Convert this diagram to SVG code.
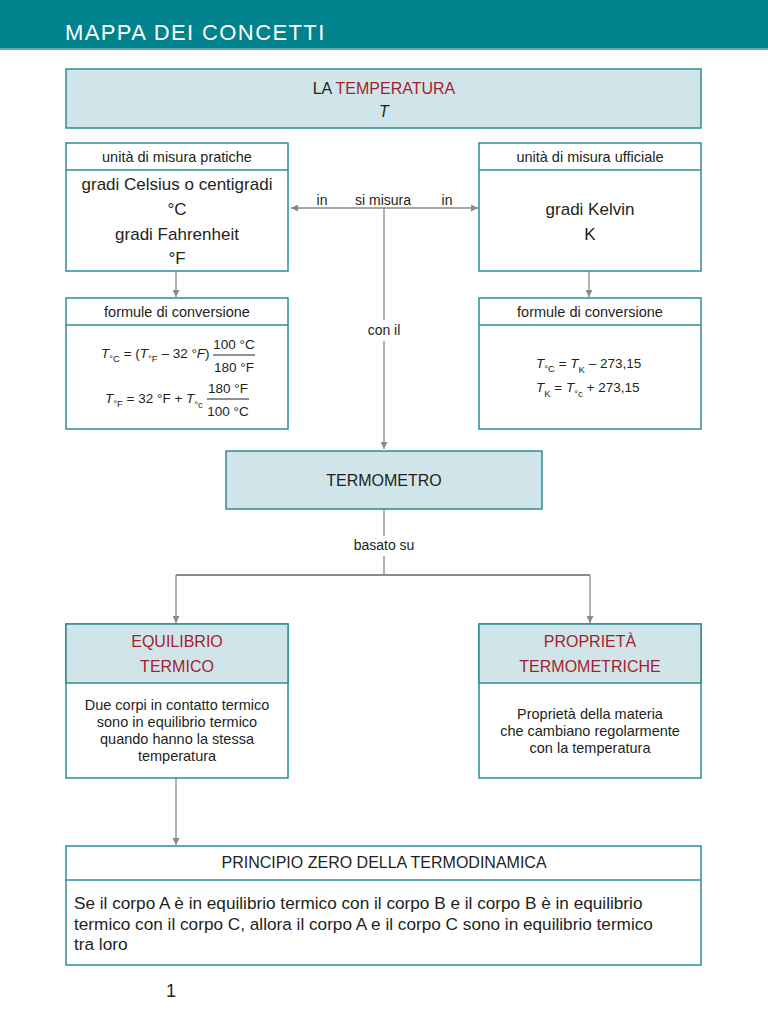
<svg xmlns="http://www.w3.org/2000/svg" width="768" height="1024" viewBox="0 0 768 1024">
<defs>
<style>
text{font-family:"Liberation Sans",Arial,sans-serif;fill:#231f20}
.box{fill:#ffffff;stroke:#2f8c95;stroke-width:1.5}
.hl{fill:#cfe5ea;stroke:#2f8c95;stroke-width:1.5}
.div{stroke:#2f8c95;stroke-width:1.5}
.c{text-anchor:middle}
.hd{font-size:14.5px}
.big{font-size:17px}
.body{font-size:14.5px}
.red{fill:#a61e2d}
.conn{stroke:#8a8a8a;stroke-width:1.3;fill:none}
.lbl{font-size:14px;text-anchor:middle}
.f{font-size:13.5px}
.it{font-style:italic}
.sub{font-size:9.5px}
</style>
<marker id="ah" viewBox="0 0 10 10" refX="10" refY="5" markerWidth="7" markerHeight="7" markerUnits="userSpaceOnUse" orient="auto">
<path d="M0,0 L10,5 L0,10 z" fill="#8a8a8a"/>
</marker>
</defs>
<rect width="768" height="1024" fill="#ffffff"/>
<g id="header">
<rect x="0" y="0" width="768" height="48" fill="#00838d"/>
<rect x="0" y="48" width="768" height="2" fill="#5ea9ae"/>
<text x="65" y="40" style="font-size:22px;fill:#ffffff;letter-spacing:1.4px">MAPPA DEI CONCETTI</text>
</g>
<g id="connectors">
<line class="conn" x1="384" y1="208" x2="291" y2="208" marker-end="url(#ah)"/>
<line class="conn" x1="384" y1="208" x2="478" y2="208" marker-end="url(#ah)"/>
<line class="conn" x1="384" y1="208" x2="384" y2="320"/>
<line class="conn" x1="384" y1="341" x2="384" y2="449" marker-end="url(#ah)"/>
<line class="conn" x1="176" y1="271" x2="176" y2="297" marker-end="url(#ah)"/>
<line class="conn" x1="589" y1="271" x2="589" y2="297" marker-end="url(#ah)"/>
<line class="conn" x1="384" y1="509" x2="384" y2="536"/>
<line class="conn" x1="384" y1="556" x2="384" y2="575"/>
<line class="conn" x1="176" y1="575" x2="590" y2="575" style="stroke-width:2"/>
<line class="conn" x1="176" y1="575" x2="176" y2="623" marker-end="url(#ah)"/>
<line class="conn" x1="590" y1="575" x2="590" y2="623" marker-end="url(#ah)"/>
<line class="conn" x1="176" y1="778" x2="176" y2="845" marker-end="url(#ah)"/>
<text class="lbl" x="322" y="205">in</text>
<text class="lbl" x="383" y="205">si misura</text>
<text class="lbl" x="447" y="205">in</text>
<text class="lbl" x="384" y="335">con il</text>
<text class="lbl" x="384" y="550">basato su</text>
</g>
<g id="temperatura">
<rect class="hl" x="66" y="69" width="635" height="59"/>
<text class="c" x="384" y="94" style="font-size:16px">LA <tspan class="red">TEMPERATURA</tspan></text>
<text class="c it" x="384" y="117" style="font-size:16px">T</text>
</g>
<g id="unita-pratiche">
<rect class="box" x="66" y="143" width="222" height="128"/>
<line class="div" x1="66" y1="170" x2="288" y2="170"/>
<text class="c hd" x="177" y="162">unità di misura pratiche</text>
<text class="c big" x="177" y="190">gradi Celsius o centigradi</text>
<text class="c big" x="177" y="215">°C</text>
<text class="c big" x="177" y="240">gradi Fahrenheit</text>
<text class="c big" x="177" y="264">°F</text>
</g>
<g id="unita-ufficiale">
<rect class="box" x="479" y="143" width="222" height="128"/>
<line class="div" x1="479" y1="170" x2="701" y2="170"/>
<text class="c hd" x="590" y="162">unità di misura ufficiale</text>
<text class="c big" x="590" y="215">gradi Kelvin</text>
<text class="c big" x="590" y="240">K</text>
</g>
<g id="formule-sx">
<rect class="box" x="66" y="298" width="222" height="131"/>
<line class="div" x1="66" y1="325" x2="288" y2="325"/>
<text class="c hd" x="177" y="317">formule di conversione</text>
<text class="f" x="101" y="358"><tspan class="it">T</tspan><tspan class="sub" dy="4">°C</tspan><tspan dy="-4"> = (</tspan><tspan class="it">T</tspan><tspan class="sub" dy="4">°F</tspan><tspan dy="-4"> – 32 °</tspan><tspan class="it">F</tspan><tspan>)</tspan></text>
<text class="f c" x="234" y="349">100 °C</text>
<line x1="213" y1="355" x2="255" y2="355" stroke="#231f20" stroke-width="1"/>
<text class="f c" x="234" y="372">180 °F</text>
<text class="f" x="105" y="403"><tspan class="it">T</tspan><tspan class="sub" dy="4">°F</tspan><tspan dy="-4"> = 32 °F + </tspan><tspan class="it">T</tspan><tspan class="sub" dy="5">°c</tspan></text>
<text class="f c" x="228" y="393">180 °F</text>
<line x1="207" y1="399" x2="249" y2="399" stroke="#231f20" stroke-width="1"/>
<text class="f c" x="228" y="416">100 °C</text>
</g>
<g id="formule-dx">
<rect class="box" x="479" y="298" width="222" height="131"/>
<line class="div" x1="479" y1="325" x2="701" y2="325"/>
<text class="c hd" x="590" y="317">formule di conversione</text>
<text class="f" x="536" y="368"><tspan class="it">T</tspan><tspan class="sub" dy="4">°C</tspan><tspan dy="-4"> = </tspan><tspan class="it">T</tspan><tspan class="sub" dy="5">K</tspan><tspan dy="-5"> – 273,15</tspan></text>
<text class="f" x="536" y="392"><tspan class="it">T</tspan><tspan class="sub" dy="5">K</tspan><tspan dy="-5"> = </tspan><tspan class="it">T</tspan><tspan class="sub" dy="5">°c</tspan><tspan dy="-5"> + 273,15</tspan></text>
</g>
<g id="termometro">
<rect class="hl" x="226" y="451" width="316" height="58"/>
<text class="c" x="384" y="486" style="font-size:16px">TERMOMETRO</text>
</g>
<g id="equilibrio">
<rect class="box" x="66" y="624" width="222" height="154"/>
<rect class="hl" x="66" y="624" width="222" height="59"/>
<text class="c red" x="177" y="647" style="font-size:16px">EQUILIBRIO</text>
<text class="c red" x="177" y="672" style="font-size:16px">TERMICO</text>
<text class="c body" x="177" y="710">Due corpi in contatto termico</text>
<text class="c body" x="177" y="727">sono in equilibrio termico</text>
<text class="c body" x="177" y="744">quando hanno la stessa</text>
<text class="c body" x="177" y="761">temperatura</text>
</g>
<g id="proprieta">
<rect class="box" x="479" y="624" width="222" height="154"/>
<rect class="hl" x="479" y="624" width="222" height="59"/>
<text class="c red" x="590" y="647" style="font-size:16px">PROPRIETÀ</text>
<text class="c red" x="590" y="672" style="font-size:16px">TERMOMETRICHE</text>
<text class="c body" x="590" y="719">Proprietà della materia</text>
<text class="c body" x="590" y="736">che cambiano regolarmente</text>
<text class="c body" x="590" y="753">con la temperatura</text>
</g>
<g id="principio">
<rect class="box" x="66" y="846" width="635" height="119"/>
<line class="div" x1="66" y1="880" x2="701" y2="880"/>
<text class="c" x="384" y="868" style="font-size:16px">PRINCIPIO ZERO DELLA TERMODINAMICA</text>
<text x="74" y="909" style="font-size:17.2px">Se il corpo A è in equilibrio termico con il corpo B e il corpo B è in equilibrio</text>
<text x="74" y="930" style="font-size:17.2px">termico con il corpo C, allora il corpo A e il corpo C sono in equilibrio termico</text>
<text x="74" y="950" style="font-size:17.2px">tra loro</text>
</g>
<text x="166" y="997" style="font-size:18px">1</text>
</svg>
